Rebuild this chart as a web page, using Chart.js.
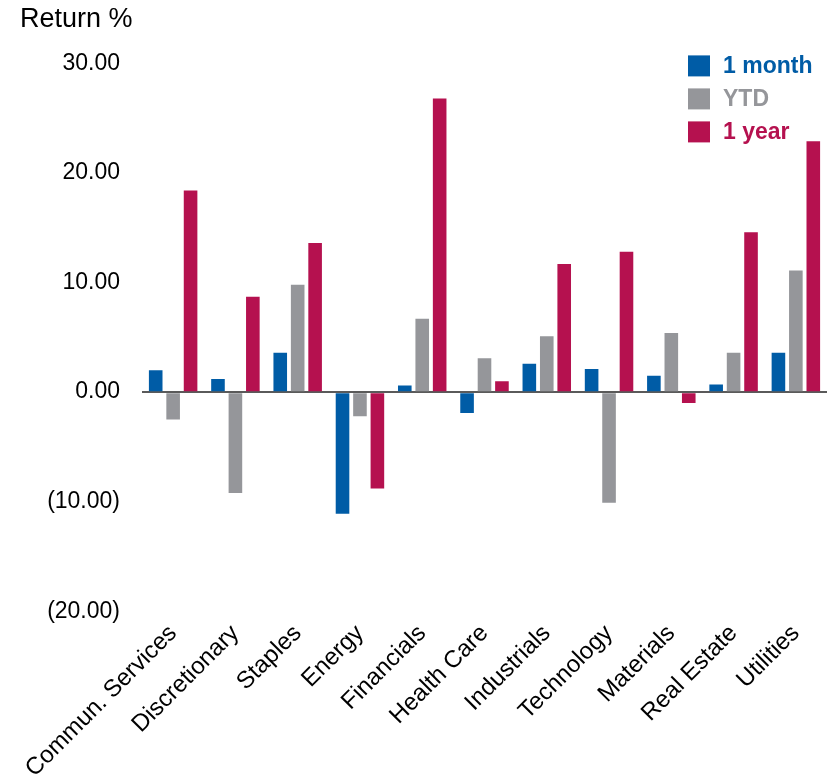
<!DOCTYPE html>
<html>
<head>
<meta charset="utf-8">
<script src="https://cdn.jsdelivr.net/npm/chart.js@4"></script>
<style>
  body { margin: 0; background: #fff; }
  #wrap { width: 837px; height: 783px; position: relative; }
</style>
</head>
<body>
<div id="wrap"><canvas id="js--chart--1"></canvas></div>
<script>
const sectors = [
    "Commun. Services",
    "Discretionary",
    "Staples",
    "Energy",
    "Financials",
    "Health Care",
    "Industrials",
    "Technology",
    "Materials",
    "Real Estate",
    "Utilities",
];

const oneMonth = [2.0, 1.2, 3.6, -11.1, 0.6, -1.9, 2.6, 2.1, 1.5, 0.7, 3.6];
const ytd = [-2.5, -9.2, 9.8, -2.2, 6.7, 3.1, 5.1, -10.1, 5.4, 3.6, 11.1];
const oneYear = [18.4, 8.7, 13.6, -8.8, 26.8, 1.0, 11.7, 12.8, -1.0, 14.6, 22.9];

const yTicks = [-20, -10, 0, 10, 20, 30];

const BLUE = '#005ca6';
const GREY = '#95969a';
const RED = '#b5114f';
const FONT = "'Liberation Sans', Arial, sans-serif";

// (10.00) style for negatives
function fmt(v) {
    return v < 0 ? '(' + Math.abs(v).toFixed(2) + ')' : v.toFixed(2);
}

// legend in the top right corner, text coloured like the series
const legendBlock = {
    id: 'legendBlock',
    afterDraw(chart) {
        const ctx = chart.ctx;
        const area = chart.chartArea;
        const x = area.right - 139;
        let y = area.top - 8;
        ctx.save();
        ctx.font = 'bold 23px ' + FONT;
        ctx.textBaseline = 'middle';
        ctx.textAlign = 'left';
        chart.data.datasets.forEach(ds => {
            ctx.fillStyle = ds.backgroundColor;
            ctx.fillRect(x, y, 22, 21);
            ctx.fillText(ds.label, x + 35, y + 11);
            y += 33;
        });
        ctx.restore();
    }
};

const data = {
    labels: sectors,
    datasets: [
        { label: "1 month", data: oneMonth, backgroundColor: BLUE },
        { label: "YTD", data: ytd, backgroundColor: GREY },
        { label: "1 year", data: oneYear, backgroundColor: RED },
    ]
};

const config = {
    type: 'bar',
    data: data,
    options: {
        responsive: true,
        maintainAspectRatio: false,
        animation: false,
        categoryPercentage: 0.84,
        barPercentage: 0.78,
        layout: { padding: { left: 20, right: 10, top: 0, bottom: 0 } },
        plugins: {
            legend: { display: false },
            tooltip: { enabled: false },
            title: {
                display: true,
                text: 'Return %',
                align: 'start',
                color: '#000',
                font: { family: FONT, size: 27, weight: 'normal' },
                padding: { top: 3, bottom: 28 }
            }
        },
        scales: {
            x: {
                grid: { display: false },
                border: { display: false },
                ticks: {
                    color: '#000',
                    font: { family: FONT, size: 24 },
                    minRotation: 45,
                    maxRotation: 45,
                    autoSkip: false,
                    padding: 0
                }
            },
            y: {
                min: -20,
                max: 30,
                afterBuildTicks: axis => { axis.ticks = yTicks.map(v => ({ value: v })); },
                afterFit: axis => { axis.width = 122; },
                border: { display: false },
                grid: {
                    drawTicks: false,
                    color: c => c.tick && c.tick.value === 0 ? '#5a5a5a' : 'rgba(0,0,0,0)',
                    lineWidth: c => c.tick && c.tick.value === 0 ? 2 : 0
                },
                ticks: {
                    color: '#000',
                    font: { family: FONT, size: 23 },
                    padding: 22,
                    callback: v => fmt(v)
                }
            }
        }
    },
    plugins: [legendBlock]
};

new Chart(document.getElementById("js--chart--1"), config);
</script>
</body>
</html>
